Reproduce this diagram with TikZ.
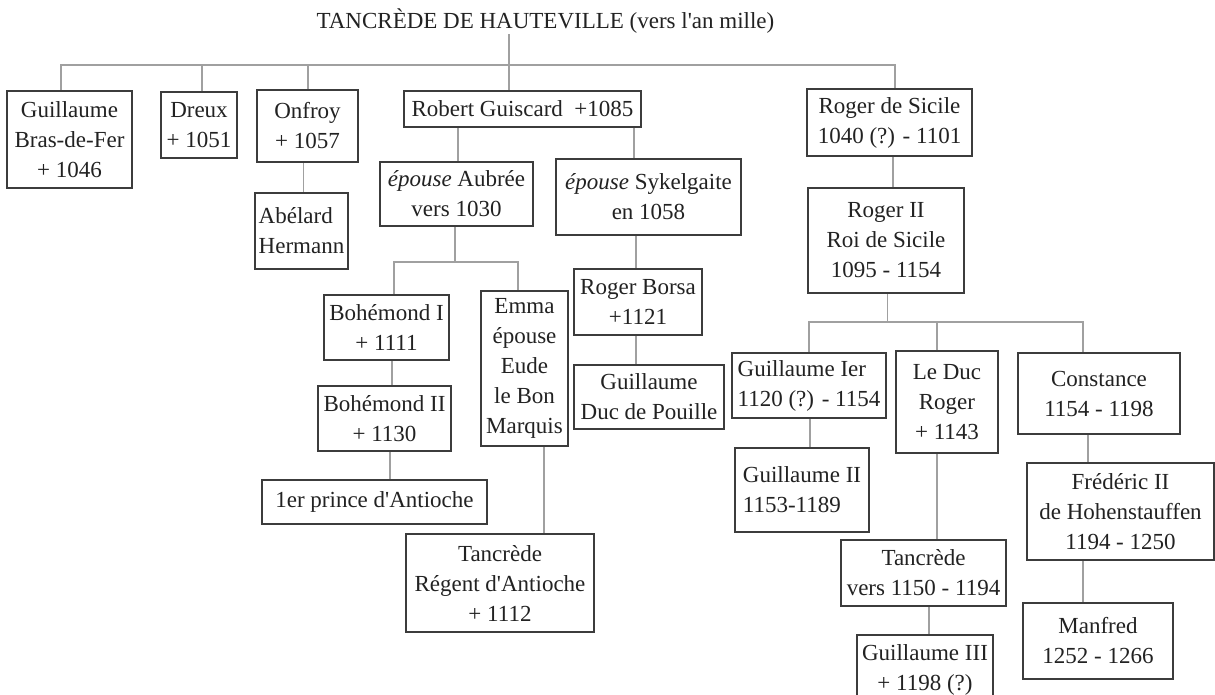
\documentclass[tikz,border=0pt]{standalone}
\usepackage{fontspec}
\newfontfamily\treefont{Liberation Serif}
\definecolor{boxgray}{HTML}{3C3C3C}
\definecolor{linkgray}{HTML}{A0A0A0}
\definecolor{textgray}{HTML}{222222}
\begin{document}
\begin{tikzpicture}[x=1pt,y=-1pt,
  person/.style={draw=boxgray, line width=2pt, inner sep=0pt, text=textgray,
    font=\treefont\fontsize{23}{30}\selectfont, align=center},
  personL/.style={person, align=left},
  link/.style={draw=linkgray, line width=1.6pt},
  bx/.style args={#1x#2}{minimum width=#1pt, minimum height=#2pt}]
\useasboundingbox (0,0) rectangle (1215,694);
\fill[white] (0,0) rectangle (1215,694);
\clip (0,0) rectangle (1215,694);

% title
\node[anchor=base, text=textgray, font=\treefont\fontsize{23}{30}\selectfont, inner sep=1pt] (title) at (545.5,28) {TANCRÈDE DE HAUTEVILLE (vers l'an mille)};

% generation 1
\node[person, bx=125x97] (guil) at (69.5,139.5) {Guillaume\\Bras-de-Fer\\+ 1046};
\node[person, bx=76x66] (dreux) at (199,125) {Dreux\\+ 1051};
\node[person, bx=101x72] (onfroy) at (307.5,126) {Onfroy\\+ 1057};
\node[person, bx=237x36] (robert) at (522.5,109) {Robert Guiscard\ \ +1085};
\node[person, bx=165x67] (rsic) at (889.5,122.5) {Roger de Sicile\\1040 (?) - 1101};

% Onfroy line
\node[personL, bx=93x76] (abel) at (301.5,231) {Abélard\\Hermann};

% Robert Guiscard line
\node[person, bx=153x64] (aubree) at (456.5,194) {\textit{épouse} Aubrée\\vers 1030};
\node[person, bx=185x76] (syk) at (648.5,197) {\textit{épouse} Sykelgaite\\en 1058};
\node[person, bx=125x65] (boh1) at (386.5,327.5) {Bohémond I\\+ 1111};
\node[person, bx=87x155] (emma) at (524.5,368.5) {Emma\\épouse\\Eude\\le Bon\\Marquis};
\node[person, bx=133x65] (boh2) at (384.5,418.5) {Bohémond II\\+ 1130};
\node[person, bx=225x44] (prince) at (374.5,502) {1er prince d'Antioche};
\node[person, bx=188x98] (tancr1) at (500,583) {Tancrède\\Régent d'Antioche\\+ 1112};
\node[person, bx=128x66] (borsa) at (638,302) {Roger Borsa\\+1121};
\node[person, bx=150x64] (pouille) at (649,397) {Guillaume\\Duc de Pouille};

% Roger de Sicile line
\node[person, bx=156x105] (r2) at (886,240.5) {Roger II\\Roi de Sicile\\1095 - 1154};
\node[personL, bx=154x65] (g1) at (809,385.5) {Guillaume Ier\\1120 (?) - 1154};
\node[person, bx=102x102] (duc) at (947,402) {Le Duc\\Roger\\+ 1143};
\node[person, bx=162x81] (const) at (1099,393.5) {Constance\\1154 - 1198};
\node[personL, bx=134x84] (g2) at (802,490) {Guillaume II\\1153-1189};
\node[person, bx=165x66] (tancr2) at (923.5,573) {Tancrède\\vers 1150 - 1194};
\node[person, bx=136x70] (g3) at (925,670) {Guillaume III\\+ 1198 (?)};
\node[person, bx=187x97] (fred) at (1120.5,511.5) {Frédéric II\\de Hohenstauffen\\1194 - 1250};
\node[person, bx=150x76] (manf) at (1098,641) {Manfred\\1252 - 1266};

% helper points on the connectors
\path ([xshift=-8.5]guil.north) coordinate (guilT)
      ([xshift=3]dreux.north) coordinate (dreuxT)
      ([xshift=0.5]onfroy.north) coordinate (onfroyT)
      ([xshift=-13.5]robert.north) coordinate (robertT)
      ([xshift=5.5]rsic.north) coordinate (rsicT)
      ([xshift=-36.5]title.south) coordinate (titleB);
\path (guilT |- 0,65) coordinate (barL) (rsicT |- 0,65) coordinate (barR);

\draw[link] (guilT) -- (barL) -- (barR) -- (rsicT);
\draw[link] (dreuxT) -- (dreuxT |- barL);
\draw[link] (onfroyT) -- (onfroyT |- barL);
\draw[link] (titleB) -- (robertT);

\path ([xshift=2]abel.north) coordinate (abelT);
\draw[link] (onfroy.south -| abelT) -- (abelT);

\path ([xshift=1.5]aubree.north) coordinate (aubT)
      ([xshift=-14.5]syk.north) coordinate (sykT);
\draw[link] (robert.south -| aubT) -- (aubT);
\draw[link] (robert.south -| sykT) -- (sykT);

\path ([xshift=-1.5]aubree.south) coordinate (aubB);
\path (aubB) ++(0,35) coordinate (aubJ);
\path ([xshift=7.5]boh1.north) coordinate (boh1T)
      ([xshift=-6.5]emma.north) coordinate (emmaT);
\draw[link] (aubB) -- (aubJ);
\draw[link] (boh1T) |- (aubJ) -| (emmaT);

\path ([xshift=5.5]boh1.south) coordinate (boh1B);
\draw[link] (boh1B) -- (boh1B |- boh2.north);
\path ([xshift=5.5]boh2.south) coordinate (boh2B);
\draw[link] (boh2B) -- (boh2B |- prince.north);
\path ([xshift=19.5]emma.south) coordinate (emmaB);
\draw[link] (emmaB) -- (emmaB |- tancr1.north);

\path ([xshift=-2]borsa.north) coordinate (borsaT);
\draw[link] (syk.south -| borsaT) -- (borsaT);
\draw[link] (borsaT |- borsa.south) -- (borsaT |- pouille.north);

% Roger de Sicile descendants
\path ([xshift=3.5]rsic.south) coordinate (rsicB);
\draw[link] (rsicB) -- (rsicB |- r2.north);
\path ([xshift=1.5]r2.south) coordinate (r2B);
\path (r2B) ++(0,28) coordinate (r2J);
\path (g1.north) coordinate (g1T)
      ([xshift=-10]duc.north) coordinate (ducT)
      ([xshift=-16]const.north) coordinate (constT);
\draw[link] (r2B) -- (r2J);
\draw[link] (g1T) |- (r2J) -| (constT);
\draw[link] (ducT) -- (ducT |- r2J);

\path ([xshift=1]g1.south) coordinate (g1B);
\draw[link] (g1B) -- (g1B |- g2.north);
\path ([xshift=-10]duc.south) coordinate (ducB);
\draw[link] (ducB) -- (ducB |- tancr2.north);
\path ([xshift=5.5]tancr2.south) coordinate (t2B);
\draw[link] (t2B) -- (t2B |- g3.north);
\path ([xshift=-11]const.south) coordinate (constB);
\draw[link] (constB) -- (constB |- fred.north);
\path ([xshift=-37.5]fred.south) coordinate (fredB);
\draw[link] (fredB) -- (fredB |- manf.north);
\end{tikzpicture}
\end{document}
